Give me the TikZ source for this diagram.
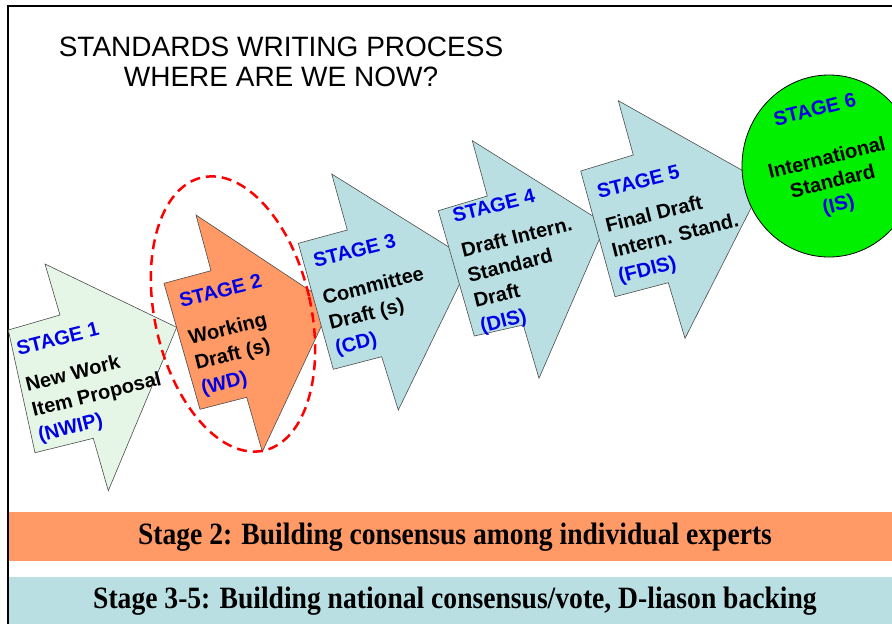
\documentclass[tikz,border=0pt]{standalone}
\usepackage{fontspec}
\setmainfont{Liberation Sans}
\newfontfamily\bandfont{Liberation Serif}
\usetikzlibrary{positioning}

\definecolor{nwipgreen}{RGB}{230,246,230}
\definecolor{wdorange}{RGB}{255,153,102}
\definecolor{draftblue}{RGB}{185,223,227}
\definecolor{isgreen}{RGB}{0,240,0}
\definecolor{abbrblue}{RGB}{0,0,230}

\newcommand{\stagelbl}[1]{{\color{abbrblue}STAGE #1}}
\newcommand{\abbrtxt}[1]{{\color{abbrblue}#1}}

\begin{document}
\begin{tikzpicture}[x=1pt, y=-1pt,
    stagearrow/.style={draw=black!70, line width=0.6pt},
    stagetext/.style={rotate=14, align=left, anchor=base west, inner sep=0pt,
      font=\fontsize{20}{26}\selectfont\bfseries},
    bandtext/.style={xscale=0.89, transform shape, font=\bandfont\bfseries\fontsize{31}{33}\selectfont}]
  \useasboundingbox (0,0) rectangle (892,624);
  % bottom bands
  \fill[wdorange] (9,512) rectangle (892,561);
  \fill[draftblue] (9,577) rectangle (892,624);
  \node[bandtext] (band2) at (455,537) {Stage 2: Building consensus among individual experts};
  \node[bandtext] (band35) at (455,601) {Stage 3-5: Building national consensus/vote, D-liason backing};
  \draw[line width=2pt] (7.5,624) -- (7.5,6) -- (892,6);
  \node[font=\fontsize{28}{30}\selectfont, align=center] (title) at (281,62)
    {STANDARDS WRITING PROCESS\\WHERE ARE WE NOW?};
  % stage arrows
  \filldraw[stagearrow, fill=nwipgreen] (8.3,330) -- (60,315) -- (45,264) -- (176.7,327.3)
    -- (108.3,490.7) -- (93.3,438.3) -- (35,452.7) -- cycle;
  \filldraw[stagearrow, fill=wdorange] (164,283.3) -- (211,270.7) -- (196,215) -- (331.4,304.8)
    -- (262.3,451.7) -- (246.7,397.3) -- (200,409.3) -- cycle;
  \filldraw[stagearrow, fill=draftblue] (298.3,243.3) -- (347.3,230) -- (331.7,174) -- (470.9,260.8)
    -- (398.3,410) -- (381.7,356.7) -- (333.3,369.3) -- cycle;
  \filldraw[stagearrow, fill=draftblue] (438.3,210.7) -- (487.3,196) -- (472.3,140.7) -- (605.9,224.2)
    -- (539,378.3) -- (523.3,325) -- (474.3,336) -- cycle;
  \filldraw[stagearrow, fill=draftblue] (580.7,171) -- (633.3,155) -- (618.3,100.7) -- (763.9,182.5)
    -- (685,338.3) -- (668.3,282.7) -- (615,296.7) -- cycle;
  \filldraw[draw=black, line width=0.8pt, fill=isgreen] (829,166) ellipse [x radius=87, y radius=91];
  % stage texts, anchored at the last line
  \node[stagetext] (nwip) at (40,442) {\stagelbl{1}\\[11pt]New Work\\Item Proposal\\\abbrtxt{(NWIP)}};
  \node[stagetext] (wd) at (203,395) {\stagelbl{2}\\[12pt]Working\\Draft (s)\\\abbrtxt{(WD)}};
  \node[stagetext] (cd) at (337,355) {\stagelbl{3}\\[12pt]Committee\\Draft (s)\\\abbrtxt{(CD)}};
  \node[stagetext] (dis) at (482,333) {\stagelbl{4}\\[10pt]Draft Intern.\\Standard\\Draft\\\abbrtxt{(DIS)}};
  \node[stagetext] (fdis) at (620,283) {\stagelbl{5}\\[9pt]Final Draft\\Intern. Stand.\\\abbrtxt{(FDIS)}};
  \node[stagetext, align=center, anchor=base, font=\fontsize{20}{24}\selectfont\bfseries] (is) at (840,211)
    {\stagelbl{6}\\[26pt]International\\Standard\\\abbrtxt{(IS)}};
  % where we are now
  \draw[red, line width=2.5pt, dash pattern=on 10pt off 6pt, rotate around={12.8:(233,314)}]
    (233,314) ellipse [x radius=78, y radius=140];
\end{tikzpicture}
\end{document}
